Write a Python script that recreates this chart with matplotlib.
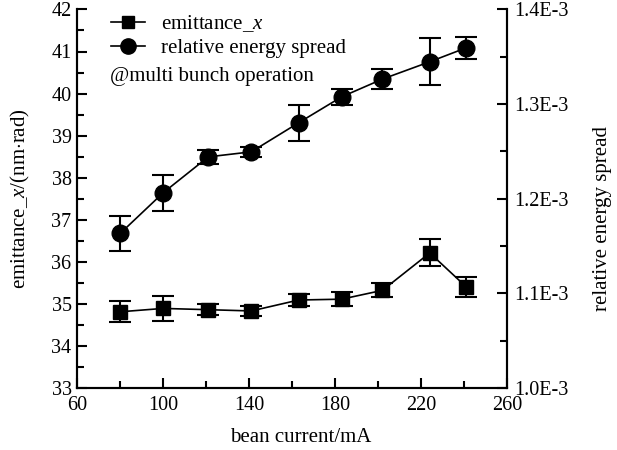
import numpy as np
import matplotlib.pyplot as plt
from matplotlib.ticker import MultipleLocator, FixedLocator, FuncFormatter
from matplotlib.lines import Line2D

plt.rcParams['font.family'] = ['Liberation Serif', 'DejaVu Serif']
plt.rcParams['mathtext.fontset'] = 'custom'
plt.rcParams['mathtext.rm'] = 'Liberation Serif'
plt.rcParams['mathtext.it'] = 'Liberation Serif:italic'

# beam current (mA)
current = [80, 100, 121, 141, 163, 183, 202, 224, 241]

# horizontal emittance (nm.rad) and its error
emittance = [34.81, 34.89, 34.86, 34.83, 35.09, 35.11, 35.32, 36.21, 35.40]
emittance_err = [0.25, 0.29, 0.13, 0.12, 0.15, 0.16, 0.17, 0.32, 0.24]

# relative energy spread and its error
spread = [1.1632e-3, 1.2062e-3, 1.2442e-3, 1.2495e-3, 1.2802e-3,
          1.3076e-3, 1.3264e-3, 1.3447e-3, 1.3595e-3]
spread_err = [0.018e-3, 0.019e-3, 0.0074e-3, 0.0056e-3, 0.019e-3,
              0.0086e-3, 0.0102e-3, 0.0248e-3, 0.0115e-3]

fig = plt.figure(figsize=(6.17, 4.5), dpi=100)
ax = fig.add_axes([0.125, 0.138, 0.697, 0.841])
ax2 = ax.twinx()

ax.errorbar(current, emittance, yerr=emittance_err, fmt='s-', color='k',
            ms=9.5, lw=1.2, elinewidth=1.5, capsize=8, capthick=1.5)
ax2.errorbar(current, spread, yerr=spread_err, fmt='o-', color='k',
             ms=12, lw=1.2, elinewidth=1.5, capsize=8, capthick=1.5)

ax.set_xlim(60, 260)
ax.set_ylim(33, 42)
ax2.set_ylim(1.0e-3, 1.4e-3)

ax.xaxis.set_major_locator(FixedLocator(np.arange(60, 261, 40)))
ax.xaxis.set_minor_locator(MultipleLocator(20))
ax.yaxis.set_major_locator(MultipleLocator(1))
ax.yaxis.set_minor_locator(MultipleLocator(0.5))
ax2.yaxis.set_major_locator(MultipleLocator(0.1e-3))
ax2.yaxis.set_minor_locator(MultipleLocator(0.05e-3))
ax2.yaxis.set_major_formatter(FuncFormatter(lambda v, p: f'{v * 1e3:.1f}E-3'))

for a in (ax, ax2):
    a.spines['top'].set_visible(False)
    for s in a.spines.values():
        s.set_linewidth(1.5)
    a.tick_params(which='both', direction='in', width=1.5, labelsize=14.5)
    a.tick_params(which='major', length=7)
    a.tick_params(which='minor', length=5)
ax.tick_params(axis='x', pad=6)
ax.tick_params(axis='y', pad=4)
ax2.tick_params(axis='y', pad=5)

ax.set_xlabel('bean current/mA', fontsize=15)
ax.xaxis.set_label_coords(0.52, -0.106)
ax.set_ylabel('emittance_$\\it{x}$/(nm$\\cdot$rad)', fontsize=15)
ax.yaxis.set_label_coords(-0.105, 0.5)
ax2.set_ylabel('relative energy spread', fontsize=15)
ax2.yaxis.set_label_coords(1.2, 0.448)

handles = [Line2D([], [], color='k', marker='s', ms=9, lw=1.2),
           Line2D([], [], color='k', marker='o', ms=11, lw=1.2)]
labels = ['emittance_$\\it{x}$', 'relative energy spread']
ax2.legend(handles, labels, loc='upper left', bbox_to_anchor=(0.06, 1.012),
           frameon=False, fontsize=15, handlelength=1.6, handletextpad=0.8,
           labelspacing=0.2, borderaxespad=0.0)
ax2.text(0.077, 0.822, '@multi bunch operation', transform=ax2.transAxes,
         fontsize=15, va='center', ha='left')

fig.savefig('out.png', dpi=100)
